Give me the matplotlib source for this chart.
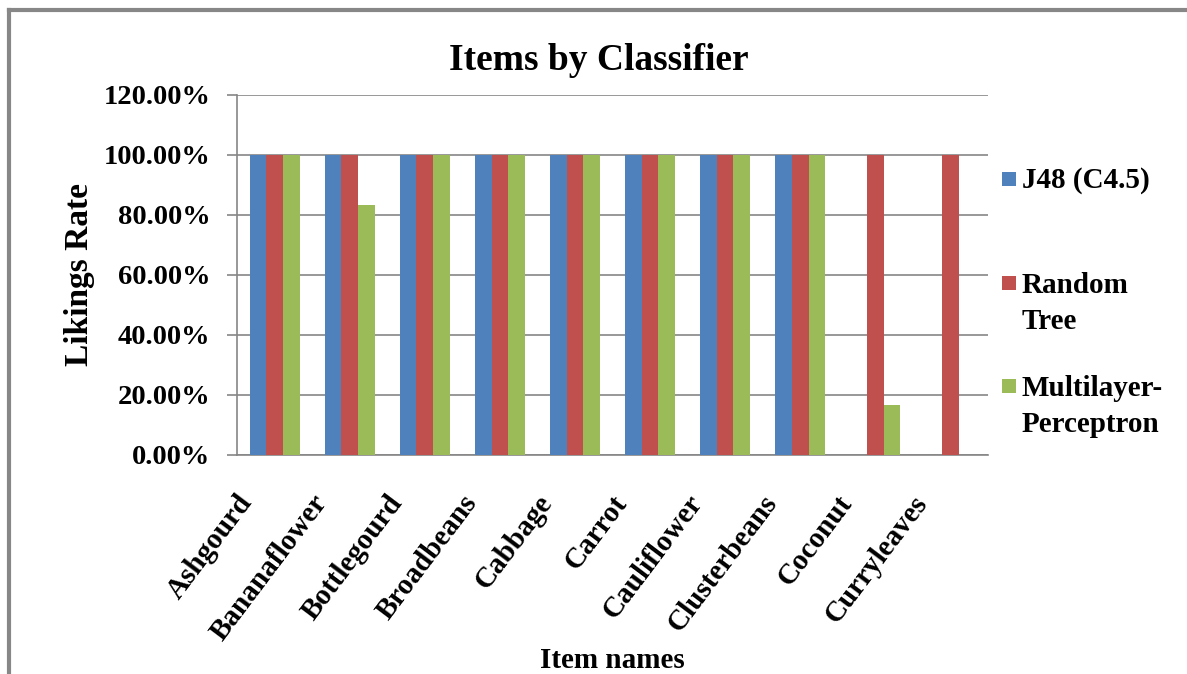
import numpy as np
import matplotlib.pyplot as plt
import matplotlib.transforms as mtransforms
from matplotlib.lines import Line2D
from matplotlib.patches import Rectangle

items = ["Ashgourd", "Bananaflower", "Bottlegourd", "Broadbeans", "Cabbage",
         "Carrot", "Cauliflower", "Clusterbeans", "Coconut", "Curryleaves"]
j48 = [100, 100, 100, 100, 100, 100, 100, 100, 0, 0]
random_tree = [100, 100, 100, 100, 100, 100, 100, 100, 100, 100]
mlp = [100, 83.33, 100, 100, 100, 100, 100, 100, 16.67, 0]
series_names = ["J48 (C4.5)", "Random\nTree", "Multilayer-\nPerceptron"]
colors = ["#4F81BD", "#C0504D", "#9BBB59"]
y_ticks = [0, 20, 40, 60, 80, 100, 120]

W, H = 1187, 674
plt.rcParams['font.family'] = ['Liberation Serif', 'DejaVu Serif']
plt.rcParams['font.weight'] = 'bold'

fig = plt.figure(figsize=(W/100, H/100), dpi=100)
ax = fig.add_axes([237/W, 1 - 455/H, 751/W, 360/H])

x = np.arange(len(items))
w = 1 / 4.5
for i, vals in enumerate([j48, random_tree, mlp]):
	ax.bar(x + (i - 1) * w, vals, width=w, color=colors[i], zorder=3)

ax.set_xlim(-0.5, len(items) - 0.5)
ax.set_ylim(0, 120)
ax.set_yticks(y_ticks)
ax.set_yticklabels(["%.2f%%" % v for v in y_ticks], fontsize=20.5, fontweight='bold')
ax.yaxis.grid(True, color='#868686', linewidth=1.2, zorder=0)
ax.set_xticks(x)
ax.set_xticklabels(items, rotation=53, ha='right', va='center', rotation_mode='anchor',
	fontsize=21, fontweight='bold')
ax.tick_params(axis='x', length=0, pad=31)
ax.tick_params(axis='y', length=7, color='#868686', width=1.2, pad=12)

# shift rotated labels left like the original
shift = mtransforms.ScaledTranslation(-28/100, 0, fig.dpi_scale_trans)
for lab in ax.get_xticklabels():
	lab.set_transform(lab.get_transform() + shift)

for s in ['top', 'right']:
	ax.spines[s].set_visible(False)
for s in ['left', 'bottom']:
	ax.spines[s].set_color('#868686')
	ax.spines[s].set_linewidth(1.2)

fig.text(599/W, 1 - 60/H, "Items by Classifier", ha='center', va='center',
	fontsize=27, fontweight='bold')
ax.set_ylabel("Likings Rate", fontsize=24, fontweight='bold')
ax.yaxis.set_label_coords(-0.189, 0.5)
fig.text(612/W, 1 - 660/H, "Item names", ha='center', va='center',
	fontsize=21, fontweight='bold')

# legend, laid out like the Excel one (baseline of the first line of each entry)
leg_rows = [188, 292, 395]
line_h = 37
for name, c, yb in zip(series_names, colors, leg_rows):
	fig.add_artist(Rectangle((1002/W, 1 - (yb - 2)/H), 14/W, 14/H,
		facecolor=c, edgecolor='none', transform=fig.transFigure))
	n_extra = name.count("\n")
	fig.text(1022/W, 1 - (yb + n_extra * line_h)/H, name, ha='left', va='baseline',
		fontsize=21, fontweight='bold', linespacing=1.45)

# chart border (top and left edges visible)
fig.add_artist(Line2D([9/W, 1], [1 - 9.5/H, 1 - 9.5/H], color='#878787', linewidth=3))
fig.add_artist(Line2D([9/W, 9/W], [0, 1 - 9.5/H], color='#878787', linewidth=3))

plt.savefig("out.png", dpi=100)
